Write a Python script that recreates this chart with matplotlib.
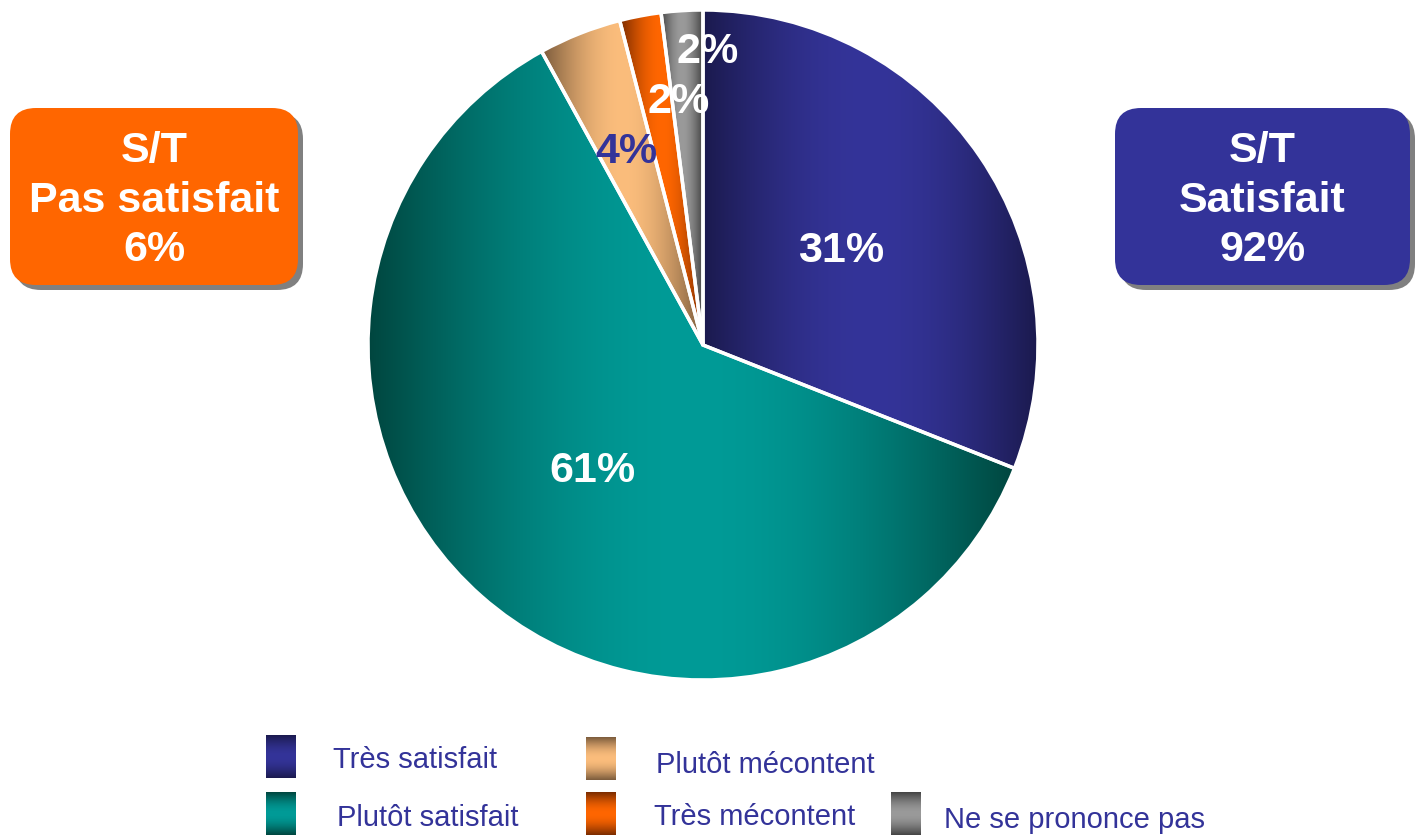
import numpy as np
import matplotlib.pyplot as plt
from matplotlib.colors import to_rgb
from matplotlib.patches import FancyBboxPatch

categories = ['Très satisfait', 'Plutôt satisfait', 'Plutôt mécontent',
              'Très mécontent', 'Ne se prononce pas']
values = [31, 61, 4, 2, 2]
pct_labels = ['31%', '61%', '4%', '2%', '2%']
box_texts = ['S/T\nPas satisfait\n6%', 'S/T\nSatisfait\n92%']

dark = ['#1b1a4e', '#00463f', '#7b5b3c', '#7a2c00', '#444444']
light = ['#343499', '#009b97', '#fbbd7c', '#ff6600', '#9a9a9a']

W, H = 1416, 835
plt.rcParams['font.family'] = ['Liberation Sans', 'DejaVu Sans']

fig = plt.figure(figsize=(W / 100, H / 100), dpi=100)
ax = fig.add_axes([0, 0, 1, 1])


def gradient(c1, c2, n=256):
    t = np.linspace(0, 1, n)
    w = np.sin(np.pi * t)[:, None]
    c1, c2 = np.array(to_rgb(c1)), np.array(to_rgb(c2))
    return c1 + (c2 - c1) * w


cx, cy, r = 703, H - 345, 335
wedges, _ = ax.pie(values, center=(cx, cy), radius=r, startangle=90, counterclock=False,
                   wedgeprops=dict(edgecolor='white', linewidth=2.5, facecolor='none'))

label_dist = [0.5, 0.5, 0.62, 0.73, 0.875]
label_nudge = [0, 0, 0, -5, -4.5]
label_col = ['white', 'white', '#333399', 'white', 'white']

for i, w in enumerate(wedges):
    w.set_zorder(2)
    th = np.deg2rad(np.linspace(w.theta1, w.theta2, 300))
    xs = np.concatenate([cx + r * np.cos(th), [cx]])
    ys = np.concatenate([cy + r * np.sin(th), [cy]])
    img = gradient(dark[i], light[i])[None, :, :]
    im = ax.imshow(img, extent=(xs.min(), xs.max(), ys.min(), ys.max()),
                   aspect='auto', zorder=1, interpolation='bilinear')
    im.set_clip_path(w)
    mid = np.deg2rad((w.theta1 + w.theta2) / 2 + label_nudge[i])
    d = label_dist[i] * r
    ax.text(cx + d * np.cos(mid), cy + d * np.sin(mid), pct_labels[i], ha='center', va='center',
            fontsize=31, fontweight='bold', color=label_col[i], zorder=5)

# summary boxes
box_pos = [(10, 108, 288, 177), (1115, 108, 295, 177)]
box_col = ['#ff6600', '#333399']
for (x, y, bw, bh), c, t in zip(box_pos, box_col, box_texts):
    yb = H - y - bh
    shadow = FancyBboxPatch((x + 5, yb - 5), bw, bh, boxstyle='round,pad=0,rounding_size=26',
                            facecolor='#808080', edgecolor='none', zorder=3)
    box = FancyBboxPatch((x, yb), bw, bh, boxstyle='round,pad=0,rounding_size=26',
                         facecolor=c, edgecolor='none', zorder=4)
    ax.add_patch(shadow)
    ax.add_patch(box)
    ax.text(x + bw / 2, yb + bh / 2 - 4, t, ha='center', va='center', fontsize=31,
            fontweight='bold', color='white', linespacing=1.32, zorder=5)

# legend
leg_box = [(266, 735), (266, 792), (586, 737), (586, 792), (891, 792)]
leg_text = [(333, 760), (337, 818), (656, 765), (654, 817), (944, 820)]
for i in range(len(categories)):
    bx, by = leg_box[i]
    img = gradient(dark[i], light[i])[:, None, :]
    ax.imshow(img, extent=(bx, bx + 30, H - by - 43, H - by), aspect='auto', zorder=3)
    tx, ty = leg_text[i]
    ax.text(tx, H - ty, categories[i], ha='left', va='center', fontsize=21,
            color='#333399', zorder=5)

ax.set_xlim(0, W)
ax.set_ylim(0, H)
ax.set_aspect('auto')
ax.axis('off')
fig.savefig('out.png', dpi=100)
